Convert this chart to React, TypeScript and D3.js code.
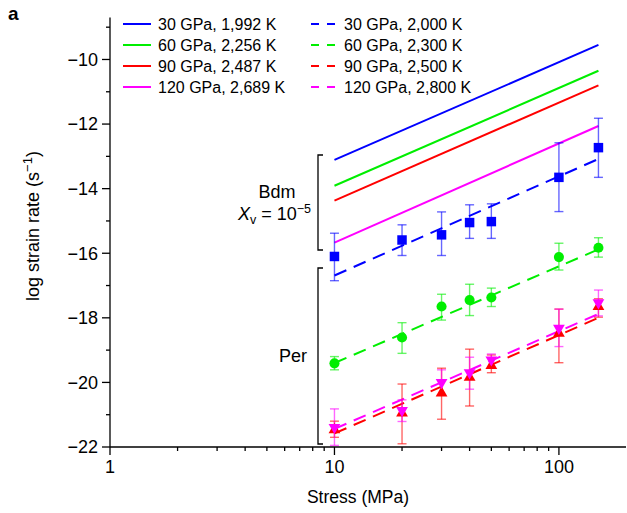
import React from "react";
import * as d3 from "d3";

// ---------- data ----------
const stress = [10, 20, 30, 40, 50, 100, 150];

const blueVal = [-16.1, -15.59, -15.43, -15.05, -15.02, -13.65, -12.73];
const blueHi = [-15.38, -15.12, -14.72, -14.5, -14.47, -12.58, -11.82];
const blueLo = [-16.85, -16.07, -16.07, -15.54, -15.54, -14.71, -13.65];

const greenVal = [-19.41, -18.61, -17.65, -17.45, -17.37, -16.12, -15.83];
const greenHi = [-19.2, -18.15, -17.27, -16.96, -17.08, -15.69, -15.52];
const greenLo = [-19.61, -19.1, -18.07, -17.93, -17.65, -16.52, -16.12];

const redVal = [-21.47, -20.95, -20.33, -19.84, -19.48, -18.48, -17.65];
const redHi = [-21.2, -20.05, -19.56, -18.97, -19.15, -17.73, -17.41];
const redLo = [-21.7, -21.9, -21.14, -20.73, -19.7, -19.39, -17.98];

const magentaVal = [-21.39, -20.87, -20.0, -19.7, -19.3, -18.32, -17.53];
const magentaHi = [-20.82, -20.54, -19.61, -19.22, -19.12, -17.73, -17.14];
const magentaLo = [-21.95, -21.21, -20.39, -20.21, -19.56, -18.89, -17.94];

// model lines: values at 10 MPa and 150 MPa
const lineStress = [10, 150];
const solidBlue = [-13.11, -9.55];
const solidGreen = [-13.91, -10.35];
const solidRed = [-14.37, -10.8];
const solidMagenta = [-15.67, -12.06];
const dashedBlue = [-16.69, -13.08];
const dashedGreen = [-19.4, -15.88];
const dashedRed = [-21.58, -18.0];
const dashedMagenta = [-21.44, -17.88];

const legendSolid = ["30 GPa, 1,992 K", "60 GPa, 2,256 K", "90 GPa, 2,487 K", "120 GPa, 2,689 K"];
const legendDashed = ["30 GPa, 2,000 K", "60 GPa, 2,300 K", "90 GPa, 2,500 K", "120 GPa, 2,800 K"];

const yTickValues = [-22, -21, -20, -19, -18, -17, -16, -15, -14, -13, -12, -11, -10, -9];
const yMajorTicks = [-22, -20, -18, -16, -14, -12, -10];
const yTickLabels = ["\u221222", "\u221220", "\u221218", "\u221216", "\u221214", "\u221212", "\u221210"];
const xMajorTicks = [1, 10, 100];
const xTickLabels = ["1", "10", "100"];

// ---------- styling ----------
const BLUE = "#0000ff";
const GREEN = "#00ee00";
const RED = "#ff0000";
const MAGENTA = "#ff00ff";
const FONT = "'Liberation Sans', Arial, Helvetica, sans-serif";

const W = 627;
const H = 513;

const x = d3.scaleLog().domain([1, 199]).range([110, 626]);
const y = d3.scaleLinear().domain([-22, -8.7]).range([447, 17.5]);

const lineGen = d3
  .line<[number, number]>()
  .x((d) => x(d[0]))
  .y((d) => y(d[1]));

const solidLines = [
  { v: solidBlue, c: BLUE },
  { v: solidGreen, c: GREEN },
  { v: solidRed, c: RED },
  { v: solidMagenta, c: MAGENTA },
];
const dashedLines = [
  { v: dashedBlue, c: BLUE },
  { v: dashedGreen, c: GREEN },
  { v: dashedRed, c: RED },
  { v: dashedMagenta, c: MAGENTA },
];

const series = [
  { val: blueVal, hi: blueHi, lo: blueLo, c: BLUE, sym: d3.symbolSquare, size: 90, rot: 0 },
  { val: greenVal, hi: greenHi, lo: greenLo, c: GREEN, sym: d3.symbolCircle, size: 80, rot: 0 },
  { val: redVal, hi: redHi, lo: redLo, c: RED, sym: d3.symbolTriangle, size: 60, rot: 0 },
  { val: magentaVal, hi: magentaHi, lo: magentaLo, c: MAGENTA, sym: d3.symbolTriangle, size: 60, rot: 180 },
];

const DASH = "13,8";

export default function App() {
  const xTicks = x.ticks().filter((t) => t < 199);
  const y0 = y(-22);
  return (
    <svg
      width={W}
      height={H}
      style={{ position: "absolute", left: 0, top: 0, background: "#fff" }}
      fontFamily={FONT}
    >
      <rect width={W} height={H} fill="#fff" />
      {/* panel label */}
      <text x={8} y={20} fontSize={19} fontWeight="bold">a</text>

      {/* model lines */}
      {solidLines.map((l, i) => (
        <path
          key={"s" + i}
          d={lineGen(lineStress.map((s, j) => [s, l.v[j]]) as [number, number][]) || ""}
          stroke={l.c}
          strokeWidth={2}
          fill="none"
        />
      ))}
      {dashedLines.map((l, i) => (
        <path
          key={"d" + i}
          d={lineGen(lineStress.map((s, j) => [s, l.v[j]]) as [number, number][]) || ""}
          stroke={l.c}
          strokeWidth={2}
          strokeDasharray={DASH}
          fill="none"
        />
      ))}

      {/* error bars */}
      {series.map((s, si) => (
        <g key={"e" + si} stroke={s.c} strokeOpacity={0.6} strokeWidth={1.4}>
          {stress.map((st, i) => {
            const cx = x(st);
            return (
              <g key={i}>
                <line x1={cx} x2={cx} y1={y(s.hi[i])} y2={y(s.lo[i])} />
                <line x1={cx - 4.5} x2={cx + 4.5} y1={y(s.hi[i])} y2={y(s.hi[i])} />
                <line x1={cx - 4.5} x2={cx + 4.5} y1={y(s.lo[i])} y2={y(s.lo[i])} />
              </g>
            );
          })}
        </g>
      ))}

      {/* markers */}
      {series.map((s, si) => (
        <g key={"m" + si} fill={s.c}>
          {stress.map((st, i) => (
            <path
              key={i}
              d={d3.symbol().type(s.sym).size(s.size)() || ""}
              transform={`translate(${x(st)},${y(s.val[i])}) rotate(${s.rot})`}
            />
          ))}
        </g>
      ))}

      {/* axes */}
      <g stroke="#000" strokeWidth={1.3}>
        <line x1={x(1)} x2={x(1)} y1={y(-8.7)} y2={y0} />
        <line x1={x(1)} x2={626} y1={y0} y2={y0} />
        {yTickValues.map((t) => {
          const major = yMajorTicks.includes(t);
          return <line key={"yt" + t} x1={x(1) - (major ? 8 : 4)} x2={x(1)} y1={y(t)} y2={y(t)} />;
        })}
        {xTicks.map((t) => {
          const major = xMajorTicks.includes(t);
          return <line key={"xt" + t} x1={x(t)} x2={x(t)} y1={y0} y2={y0 + (major ? 8 : 4)} />;
        })}
      </g>
      {yMajorTicks.map((t, i) => (
        <text key={"yl" + t} x={98} y={y(t)} dy="0.35em" fontSize={18} textAnchor="end">
          {yTickLabels[i]}
        </text>
      ))}
      {xMajorTicks.map((t, i) => (
        <text key={"xl" + t} x={x(t)} y={473} fontSize={18} textAnchor="middle">
          {xTickLabels[i]}
        </text>
      ))}
      <text x={358} y={503} fontSize={17.5} textAnchor="middle">Stress (MPa)</text>
      <text transform="translate(39,226) rotate(-90)" fontSize={18} textAnchor="middle">
        log strain rate (s
        <tspan fontSize={13} dy={-7}>{"\u22121"}</tspan>
        <tspan dy={7}>)</tspan>
      </text>

      {/* brackets */}
      <path d="M323,155 H318 V250 H323" stroke="#000" strokeWidth={1.3} fill="none" />
      <path d="M323,268 H318 V444 H323" stroke="#000" strokeWidth={1.3} fill="none" />
      <text x={277} y={198} fontSize={18} textAnchor="middle">Bdm</text>
      <text x={238} y={220} fontSize={18}>
        <tspan fontStyle="italic">X</tspan>
        <tspan fontSize={12.5} dy={4}>v</tspan>
        <tspan dy={-4}>{" = 10"}</tspan>
        <tspan fontSize={12.5} dy={-7}>{"\u22125"}</tspan>
      </text>
      <text x={307} y={362} fontSize={18} textAnchor="end">Per</text>

      {/* legend */}
      {legendSolid.map((lab, i) => {
        const cy = 24 + i * 21;
        return (
          <g key={"ls" + i}>
            <line x1={123} x2={151} y1={cy} y2={cy} stroke={solidLines[i].c} strokeWidth={2} />
            <text x={158} y={cy} dy="0.36em" fontSize={16}>{lab}</text>
          </g>
        );
      })}
      {legendDashed.map((lab, i) => {
        const cy = 24 + i * 21;
        return (
          <g key={"ld" + i}>
            <line x1={311} x2={336} y1={cy} y2={cy} stroke={dashedLines[i].c} strokeWidth={2} strokeDasharray="8,8" />
            <text x={344} y={cy} dy="0.36em" fontSize={16}>{lab}</text>
          </g>
        );
      })}
    </svg>
  );
}
